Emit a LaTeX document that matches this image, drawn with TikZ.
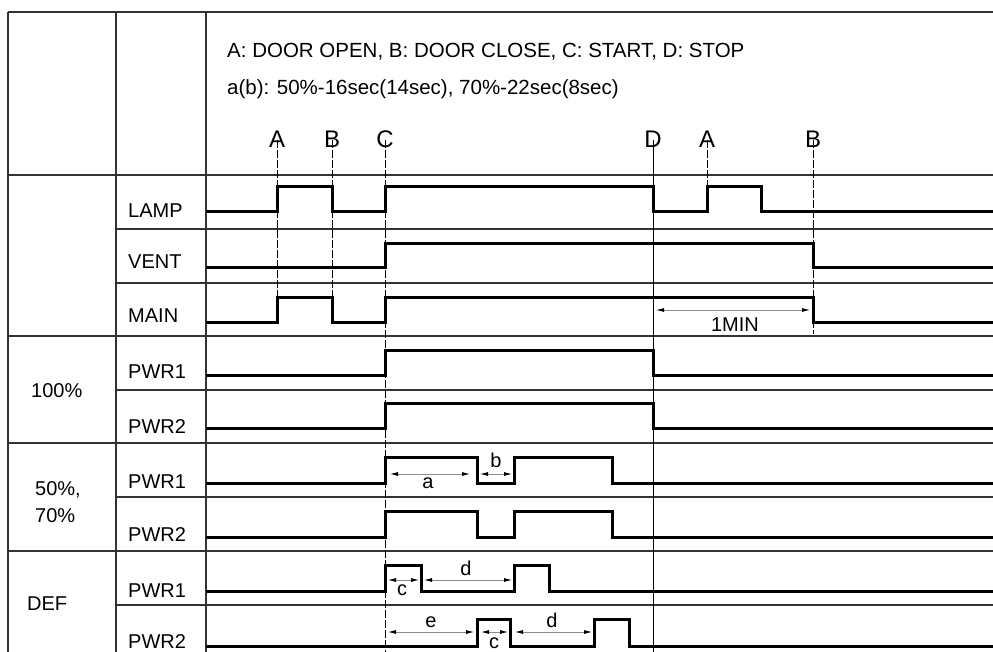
\documentclass[tikz,border=0pt]{standalone}
\usepackage{fontspec}
\setmainfont{Liberation Sans}
\usetikzlibrary{arrows.meta}
\begin{document}
\begin{tikzpicture}[x=1pt,y=-1pt,
  gridline/.style={line width=1.3pt, black!80},
  sig/.style={line width=3pt, line join=miter},
  evt/.style={line width=1pt, dash pattern=on 8pt off 2pt},
  evtsolid/.style={line width=1pt},
  dim/.style={line width=0.8pt, black!45, {Latex[length=8pt,width=4pt,black]}-{Latex[length=8pt,width=4pt,black]}},
  lbl/.style={font=\fontsize{20}{24}\selectfont, inner sep=0pt, anchor=base west},
  hdr/.style={font=\fontsize{20.5}{24}\selectfont, inner sep=0pt, anchor=base west},
  evlbl/.style={font=\fontsize{24}{28}\selectfont, inner sep=0pt, anchor=base},
  dimlbl/.style={font=\fontsize{20}{24}\selectfont, inner sep=0pt},
]
\useasboundingbox (0,0) rectangle (993,652);
\fill[white] (0,0) rectangle (993,652);

% table grid
\draw[gridline] (8,12) -- (993,12);
\draw[gridline] (8,12) -- (8,652);
\draw[gridline] (116,12) -- (116,652);
\draw[gridline] (206,12) -- (206,652);
\draw[gridline] (8,175) -- (993,175);
\draw[gridline] (116,229) -- (993,229);
\draw[gridline] (116,283) -- (993,283);
\draw[gridline] (8,336) -- (993,336);
\draw[gridline] (116,390) -- (993,390);
\draw[gridline] (8,443) -- (993,443);
\draw[gridline] (116,497) -- (993,497);
\draw[gridline] (8,551) -- (993,551);
\draw[gridline] (116,605) -- (993,605);

% header text
\node[hdr] (hdr1) at (227,58) {A: DOOR OPEN, B: DOOR CLOSE, C: START, D: STOP};
\node[hdr] (hdr2) at (227,95) {a(b): 50\%-16sec(14sec), 70\%-22sec(8sec)};

% event labels
\node[evlbl] (evA1) at (277,148) {A};
\node[evlbl] (evB1) at (332,148) {B};
\node[evlbl] (evC)  at (385,148) {C};
\node[evlbl] (evD)  at (653,148) {D};
\node[evlbl] (evA2) at (707,148) {A};
\node[evlbl] (evB2) at (813,148) {B};

% event lines
\coordinate (eA1) at (277,322);
\coordinate (eB1) at (332,322);
\coordinate (eC)  at (385,652);
\coordinate (eD)  at (653,652);
\coordinate (eA2) at (707,187);
\coordinate (eB2) at (813,334);
\draw[evt] (evA1.center) -- (eA1);
\draw[evt] (evB1.center) -- (eB1);
\draw[evt] (evC.center) -- (eC);
\draw[evtsolid] (evD.center) -- (eD);
\draw[evt] (evA2.center) -- (eA2);
\draw[evt] (evB2.center) -- (eB2);

% row labels
\node[lbl] (lamp) at (128,218) {LAMP};
\node[lbl] (vent) at (128,269) {VENT};
\node[lbl] (main) at (128,322) {MAIN};
\node[lbl] (p1a) at (128,378) {PWR1};
\node[lbl] (p2a) at (128,433) {PWR2};
\node[lbl] (p1b) at (128,488) {PWR1};
\node[lbl] (p2b) at (128,541) {PWR2};
\node[lbl] (p1c) at (128,597) {PWR1};
\node[lbl] (p2c) at (128,648) {PWR2};
\node[lbl] (g100) at (31,397) {100\%};
\node[lbl] (g50) at (35,495) {50\%,};
\node[lbl] (g70) at (35,522) {70\%};
\node[lbl] (gdef) at (27,610) {DEF};

% signals
\draw[sig] (206,212) -- (277,212) -- (277,187) -- (332,187) -- (332,212) -- (385,212) -- (385,187) -- (653,187) -- (653,212) -- (707,212) -- (707,187) -- (761,187) -- (761,212) -- (993,212);
\draw[sig] (206,268) -- (385,268) -- (385,244) -- (813,244) -- (813,268) -- (993,268);
\draw[sig] (206,322) -- (277,322) -- (277,298) -- (332,298) -- (332,322) -- (385,322) -- (385,298) -- (813,298) -- (813,322) -- (993,322);
\draw[sig] (206,375) -- (385,375) -- (385,350) -- (653,350) -- (653,375) -- (993,375);
\draw[sig] (206,428) -- (385,428) -- (385,403) -- (653,403) -- (653,428) -- (993,428);
\draw[sig] (206,483) -- (385,483) -- (385,457) -- (477,457) -- (477,483) -- (514,483) -- (514,457) -- (612,457) -- (612,483) -- (993,483);
\draw[sig] (206,537) -- (385,537) -- (385,511) -- (477,511) -- (477,537) -- (514,537) -- (514,511) -- (612,511) -- (612,537) -- (993,537);
\draw[sig] (206,591) -- (385,591) -- (385,565) -- (421,565) -- (421,591) -- (514,591) -- (514,565) -- (549,565) -- (549,591) -- (993,591);
\draw[sig] (206,646) -- (477,646) -- (477,619) -- (510,619) -- (510,646) -- (594,646) -- (594,619) -- (629,619) -- (629,646) -- (993,646);

% dimension arrows
\coordinate (m1) at (656,310); \coordinate (m2) at (810,310);
\draw[dim] (m1) -- (m2);
\node[dimlbl] (t1min) at (735,325) {1MIN};

\coordinate (a1) at (390,474); \coordinate (a2) at (470,474);
\draw[dim] (a1) -- (a2);
\node[dimlbl] (ta) at (428,483) {a};
\coordinate (b1) at (480,474); \coordinate (b2) at (512,474);
\draw[dim] (b1) -- (b2);
\node[dimlbl] (tb) at (496,460) {b};

\coordinate (c1) at (388,580); \coordinate (c2) at (419,580);
\draw[dim] (c1) -- (c2);
\node[dimlbl] (tc1) at (402,590) {c};
\coordinate (d1) at (424,580); \coordinate (d2) at (512,580);
\draw[dim] (d1) -- (d2);
\node[dimlbl] (td1) at (466,568) {d};

\coordinate (e1) at (388,632); \coordinate (e2) at (474,632);
\draw[dim] (e1) -- (e2);
\node[dimlbl] (te) at (431,622) {e};
\coordinate (c3) at (481,632); \coordinate (c4) at (508,632);
\draw[dim] (c3) -- (c4);
\node[dimlbl] (tc2) at (494,643) {c};
\coordinate (d3) at (515,632); \coordinate (d4) at (592,632);
\draw[dim] (d3) -- (d4);
\node[dimlbl] (td2) at (552,620) {d};
\end{tikzpicture}
\end{document}
